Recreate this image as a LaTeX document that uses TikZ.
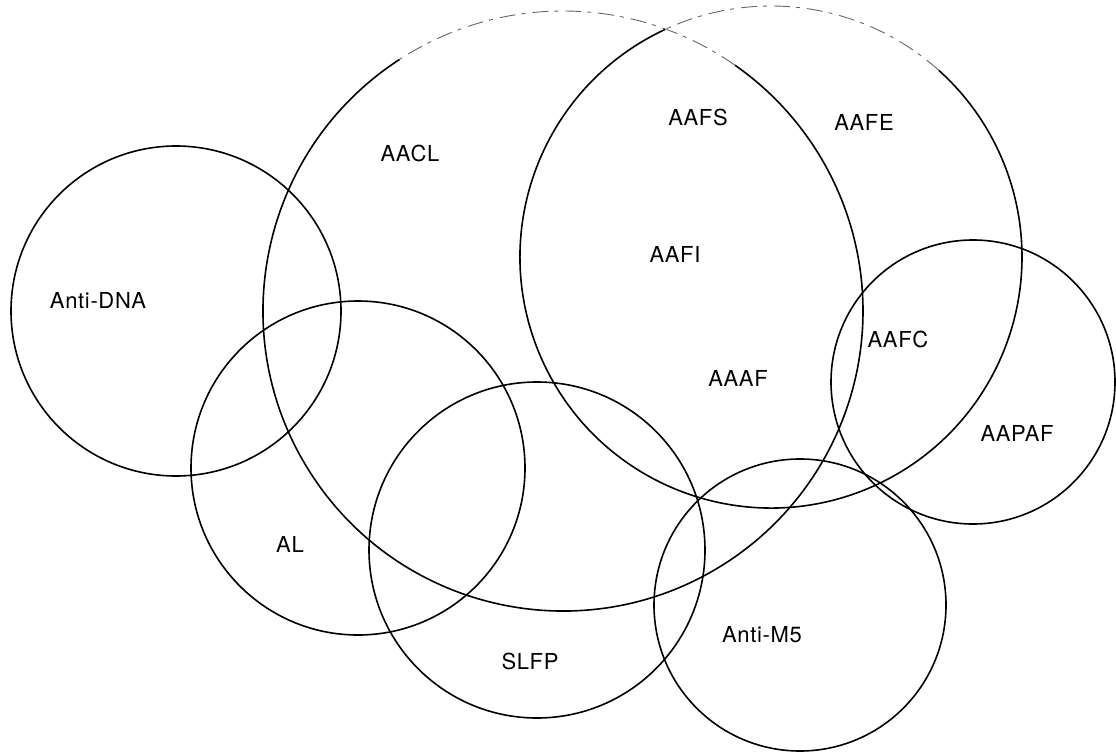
\documentclass[tikz,border=0pt]{standalone}
\usepackage{fontspec}
\setmainfont{TeX Gyre Heros}[LetterSpace=3]
\usetikzlibrary{calc}
\begin{document}
\begin{tikzpicture}[x=1pt,y=-1pt,
  ring/.style={draw=black,line width=1.6pt},
  worn/.style={draw=black!60,line width=0.9pt,dash pattern=on 16pt off 7pt on 4pt off 6pt},
  lbl/.style={font=\fontsize{22}{22}\selectfont,inner sep=0pt}]
\useasboundingbox (0,0) rectangle (1116,752);

% centres of the sets
\coordinate (cdna)  at (176,311);
\coordinate (cal)   at (358,468);
\coordinate (cslfp) at (537,550);
\coordinate (cm5)   at (800,605);
\coordinate (cpaf)  at (973,382);
\coordinate (cacl)  at (563,311);
\coordinate (cafe)  at (771,257);

% small circles
\draw[ring] (cdna)  circle[radius=165pt];
\draw[ring] (cal)   circle[radius=167pt];
\draw[ring] (cslfp) circle[radius=168pt];
\draw[ring] (cm5)   circle[radius=146pt];
\draw[ring] (cpaf)  circle[radius=142pt];

% large sets, their top arcs printed faintly
\draw[ring] ($(cacl)+(123:300pt)$) arc[start angle=123,end angle=415,radius=300pt];
\draw[worn] ($(cacl)+(55:300pt)$) arc[start angle=55,end angle=123,radius=300pt];
\draw[ring] ($(cafe)+(115:251pt)$) arc[start angle=115,end angle=408,radius=251pt];
\draw[worn] ($(cafe)+(48:251pt)$) arc[start angle=48,end angle=115,radius=251pt];

% labels
\node[lbl] (tdna)  at (98,301)  {Anti-DNA};
\node[lbl] (tacl)  at (410,153) {AACL};
\node[lbl] (tal)   at (290,544) {AL};
\node[lbl] (tslfp) at (530,661) {SLFP};
\node[lbl] (tm5)   at (762,635) {Anti-M5};
\node[lbl] (tpaf)  at (1017,433) {AAPAF};
\node[lbl] (tafc)  at (898,339) {AAFC};
\node[lbl] (taaf)  at (738,378) {AAAF};
\node[lbl] (tafi)  at (675,254) {AAFI};
\node[lbl] (tafs)  at (698,117) {AAFS};
\node[lbl] (tafe)  at (864,122) {AAFE};
\end{tikzpicture}
\end{document}
